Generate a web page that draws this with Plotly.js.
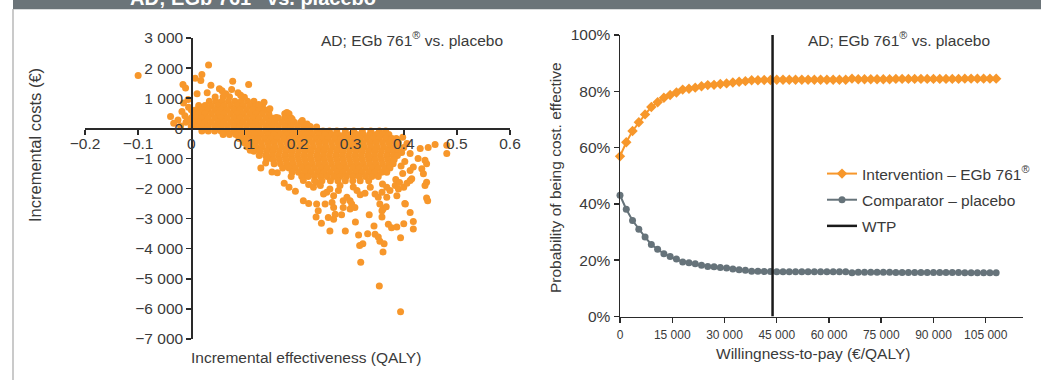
<!DOCTYPE html>
<html>
<head>
<meta charset="utf-8">
<script src="https://cdn.plot.ly/plotly-3.0.1.min.js"></script>
<style>html,body{margin:0;padding:0;background:#fff;}#chart{width:1041px;height:380px;}</style>
</head>
<body>
<div id="chart"></div>
<script>
// ---------- DATA ----------
// Dense part of the cost-effectiveness plane: [incremental cost, [incremental effectiveness ...]]
const cloudRows = [
  [1050, [0.06, 0.072]],
  [900, [0.034, 0.046, 0.058, 0.07, 0.082, 0.094, 0.106, 0.118]],
  [760, [0.014, 0.026, 0.038, 0.05, 0.062, 0.074, 0.086, 0.098, 0.11, 0.122, 0.134]],
  [620, [0.0, 0.01, 0.02, 0.032, 0.044, 0.056, 0.068, 0.08, 0.092, 0.104, 0.116, 0.128, 0.138]],
  [480, [0.004, 0.014, 0.026, 0.038, 0.05, 0.062, 0.074, 0.086, 0.098, 0.11, 0.122, 0.134, 0.146, 0.176, 0.184]],
  [340, [0.0, 0.01, 0.02, 0.032, 0.044, 0.056, 0.068, 0.08, 0.092, 0.104, 0.116, 0.128, 0.14, 0.152, 0.164, 0.176, 0.188]],
  [200, [0.004, 0.014, 0.026, 0.038, 0.05, 0.062, 0.074, 0.086, 0.098, 0.11, 0.122, 0.134, 0.146, 0.158, 0.17, 0.182, 0.194, 0.206]],
  [60, [0.0, 0.01, 0.02, 0.032, 0.044, 0.056, 0.068, 0.08, 0.092, 0.104, 0.116, 0.128, 0.14, 0.152, 0.164, 0.176, 0.188, 0.2, 0.212, 0.224]],
  [-90, [0.02, 0.032, 0.044, 0.056, 0.068, 0.08, 0.092, 0.104, 0.116, 0.128, 0.14, 0.152, 0.164, 0.176, 0.188, 0.2, 0.212, 0.224, 0.236, 0.248, 0.26, 0.274, 0.29, 0.306, 0.322, 0.338, 0.354, 0.366]],
  [-210, [0.06, 0.072, 0.084, 0.096, 0.108, 0.12, 0.132, 0.144, 0.156, 0.168, 0.18, 0.192, 0.204, 0.216, 0.228, 0.24, 0.252, 0.264, 0.276, 0.288, 0.3, 0.312, 0.324, 0.336, 0.348, 0.36, 0.372]],
  [-340, [0.09, 0.102, 0.114, 0.126, 0.138, 0.15, 0.162, 0.174, 0.186, 0.198, 0.21, 0.222, 0.234, 0.246, 0.258, 0.27, 0.282, 0.294, 0.306, 0.318, 0.33, 0.342, 0.354, 0.366, 0.378, 0.386]],
  [-480, [0.1, 0.108, 0.12, 0.132, 0.144, 0.156, 0.168, 0.18, 0.192, 0.204, 0.216, 0.228, 0.24, 0.252, 0.264, 0.276, 0.288, 0.3, 0.312, 0.324, 0.336, 0.348, 0.36, 0.372, 0.384, 0.39]],
  [-620, [0.11, 0.122, 0.134, 0.146, 0.158, 0.17, 0.182, 0.194, 0.206, 0.218, 0.23, 0.242, 0.254, 0.266, 0.278, 0.29, 0.302, 0.314, 0.326, 0.338, 0.35, 0.362, 0.374, 0.386]],
  [-760, [0.118, 0.13, 0.142, 0.154, 0.166, 0.178, 0.19, 0.202, 0.214, 0.226, 0.238, 0.25, 0.262, 0.274, 0.286, 0.298, 0.31, 0.322, 0.334, 0.346, 0.358, 0.37, 0.382, 0.39]],
  [-900, [0.128, 0.14, 0.152, 0.164, 0.176, 0.188, 0.2, 0.212, 0.224, 0.236, 0.248, 0.26, 0.272, 0.284, 0.296, 0.308, 0.32, 0.332, 0.344, 0.356, 0.368, 0.38, 0.388]],
  [-1040, [0.142, 0.154, 0.166, 0.178, 0.19, 0.202, 0.214, 0.226, 0.238, 0.25, 0.262, 0.274, 0.286, 0.298, 0.31, 0.322, 0.334, 0.346, 0.358, 0.37, 0.382]],
  [-1180, [0.156, 0.168, 0.18, 0.192, 0.204, 0.216, 0.228, 0.24, 0.252, 0.264, 0.276, 0.288, 0.3, 0.312, 0.324, 0.336, 0.348, 0.36, 0.372, 0.38]],
  [-1320, [0.172, 0.184, 0.196, 0.208, 0.22, 0.232, 0.244, 0.256, 0.268, 0.28, 0.292, 0.304, 0.316, 0.328, 0.34, 0.352, 0.364, 0.374]],
  [-1460, [0.19, 0.202, 0.214, 0.226, 0.238, 0.25, 0.262, 0.274, 0.286, 0.298, 0.31, 0.322, 0.334, 0.346, 0.358, 0.368]],
  [-1600, [0.208, 0.22, 0.232, 0.244, 0.256, 0.268, 0.28, 0.292, 0.304, 0.316, 0.328, 0.34, 0.352]],
  [-1740, [0.232, 0.246, 0.262, 0.276, 0.29, 0.304, 0.318, 0.334]]
];

// Individually visible simulations: [incremental effectiveness, incremental cost]
const scatteredPoints = [
  [0.0326,2100],[0.02,1790],[0.0075,1660],[0.018,1590],[0.037,1430],[0.053,1310],[0.058,1250],[0.078,1565],
  [0.076,1285],[0.108,1455],[0.011,1150],[0.137,862],[0.18,526],[0.209,257],[0.088,1180],[0.065,1150],
  [0.045,1040],[0.1,1030],[0.127,790],[0.148,650],[0.16,360],[0.19,300],[0.218,140],[0.236,40],[0.03,1180],[0.093,1100],
  [-0.1,1755],[-0.0156,1453],[-0.0107,1342],[-0.0145,839],[-0.0175,557],[-0.039,390],[-0.025,279],[-0.01,200],
  [-0.007,250],[-0.033,168],[-0.005,700],[-0.012,420],[-0.02,80],[-0.006,960],
  [0.387,-393],[0.406,-503],[0.431,-671],[0.446,-638],[0.459,-537],[0.481,-560],[0.481,-839],[0.412,-839],
  [0.427,-1007],[0.443,-1175],[0.418,-1289],[0.44,-1064],[0.412,-1400],[0.434,-1342],[0.437,-1510],[0.443,-1790],
  [0.44,-1900],[0.415,-1678],[0.443,-2316],[0.402,-1100],[0.398,-1500],[0.396,-800],[0.4,-640],[0.398,-300],[0.395,-1250],
  [0.105,-615],[0.111,-727],[0.131,-1320],[0.152,-1455],[0.162,-1480],[0.14,-1150],[0.175,-1824],[0.184,-1958],
  [0.196,-2093],[0.188,-1600],
  [0.211,-1734],[0.221,-1869],[0.23,-1958],[0.236,-1790],[0.243,-1902],[0.249,-2182],[0.255,-2126],[0.261,-2014],
  [0.268,-2238],[0.277,-2070],[0.286,-2406],[0.293,-2294],[0.299,-2406],[0.312,-2070],[0.318,-2204],[0.327,-2160],
  [0.337,-1958],[0.346,-2182],[0.352,-2294],[0.359,-2126],[0.368,-1958],[0.374,-2070],[0.384,-1902],[0.39,-2014],
  [0.4,-1958],[0.406,-1824],[0.412,-1734],[0.28,-1900],[0.305,-1950],[0.36,-1850],[0.385,-1700],[0.392,-1800],
  [0.211,-2406],[0.221,-2497],[0.236,-2517],[0.252,-2517],[0.265,-2463],[0.268,-2631],[0.239,-2742],[0.235,-2943],
  [0.245,-3155],[0.261,-3413],[0.258,-2966],[0.268,-3020],[0.271,-2853],[0.283,-2876],[0.29,-3413],[0.286,-2631],
  [0.299,-2685],[0.302,-2517],[0.308,-2631],[0.309,-3111],[0.315,-3547],[0.323,-3839],[0.317,-3893],[0.319,-4453],
  [0.335,-2876],[0.344,-3245],[0.332,-3503],[0.346,-3524],[0.352,-3614],[0.355,-3749],[0.363,-3839],[0.361,-4108],
  [0.354,-5236],[0.394,-6098],[0.355,-2517],[0.361,-2685],[0.367,-2607],[0.359,-2943],[0.371,-3188],[0.377,-3302],
  [0.387,-3279],[0.4,-3168],[0.394,-3637],[0.412,-2799],[0.418,-3100],[0.418,-3346],[0.403,-2517],[0.445,-2406],
  [0.402,-2495],[0.387,-2238],[0.368,-2294],[0.359,-2742]
];

// Cost-effectiveness acceptability curve
const wtp = [0, 1800, 3600, 5400, 7200, 9000, 10800, 12600, 14400, 16200, 18000, 19800, 21600, 23400, 25200,
  27000, 28800, 30600, 32400, 34200, 36000, 37800, 39600, 41400, 43200, 45000, 46800, 48600, 50400, 52200,
  54000, 55800, 57600, 59400, 61200, 63000, 64800, 66600, 68400, 70200, 72000, 73800, 75600, 77400, 79200,
  81000, 82800, 84600, 86400, 88200, 90000, 91800, 93600, 95400, 97200, 99000, 100800, 102600, 104400, 106200, 108000];
const probIntervention = [56.9, 61.9, 65.9, 69.0, 71.8, 74.4, 76.1, 77.7, 78.7, 79.6, 80.6, 80.9, 81.3, 81.8, 82.2,
  82.3, 82.6, 82.8, 83.1, 83.4, 83.6, 83.9, 83.9, 84.0, 84.0,
  84.1, 84.1, 84.1, 84.1, 84.1, 84.1, 84.1, 84.1, 84.1, 84.1, 84.1, 84.1,
  84.5,
  84.3, 84.3, 84.3, 84.3, 84.3, 84.3, 84.4, 84.4, 84.4, 84.4, 84.4, 84.4, 84.4, 84.4, 84.4, 84.4, 84.4,
  84.5, 84.5, 84.5, 84.5, 84.5, 84.5];
const probComparator = [43.1, 38.1, 34.1, 31.0, 28.2, 25.6, 23.9, 22.3, 21.3, 20.4, 19.4, 19.1, 18.7, 18.2, 17.8,
  17.7, 17.4, 17.2, 16.9, 16.6, 16.4, 16.1, 16.1, 16.0, 16.0,
  15.9, 15.9, 15.9, 15.9, 15.9, 15.9, 15.9, 15.9, 15.9, 15.9, 15.9, 15.9,
  15.5,
  15.7, 15.7, 15.7, 15.7, 15.7, 15.7, 15.6, 15.6, 15.6, 15.6, 15.6, 15.6, 15.6, 15.6, 15.6, 15.6, 15.6,
  15.5, 15.5, 15.5, 15.5, 15.5, 15.5];
const wtpThreshold = 43800;

const panelTitle = 'AD; EGb 761<sup>®</sup> vs. placebo';
const costTicks = [3000, 2000, 1000, 0, -1000, -2000, -3000, -4000, -5000, -6000, -7000];
const wtpTicks = [0, 15000, 30000, 45000, 60000, 75000, 90000, 105000];

// ---------- BUILD ----------
const effX = [], costY = [];
cloudRows.forEach(([c, xs]) => xs.forEach(x => { effX.push(x); costY.push(c); }));
scatteredPoints.forEach(([x, c]) => { effX.push(x); costY.push(c); });

const FONT = "'Liberation Sans', Arial, sans-serif";
const FS = 15.5;
const TXT = '#3a3a3a', AX = '#2a2a2a';
const ORANGE = '#F7972B', GREY = '#66737A';

const L = 85, R = 18, T = 35, B = 41, FW = 1041, FH = 380;
const W = FW - L - R, H = FH - T - B;
const px2x = p => (p - L) / W;
const py2y = p => (FH - B - p) / H;

const leftXDom = [0, px2x(510)];
const leftYDom = [0, py2y(38)];
const rightXDom = [px2x(620), 1];
const rightYDom = [py2y(316.5), 1];
const yRange = [-7000, 3000], xRange = [-0.2, 0.6];
const xAxisPos = leftYDom[0] + (leftYDom[1] - leftYDom[0]) * (0 - yRange[0]) / (yRange[1] - yRange[0]);
const yAxisPos = leftXDom[0] + (leftXDom[1] - leftXDom[0]) * (0 - xRange[0]) / (xRange[1] - xRange[0]);

const axisCommon = {
  showline: true, linecolor: AX, linewidth: 1.5, ticks: 'outside', ticklen: 5, tickwidth: 1.5,
  tickcolor: AX, showgrid: false, zeroline: false, layer: 'above traces', automargin: false,
  exponentformat: 'none', tickfont: {family: FONT, size: FS, color: TXT}
};

const traces = [
  {x: effX, y: costY, xaxis: 'x', yaxis: 'y', type: 'scatter', mode: 'markers', showlegend: false,
   hoverinfo: 'skip', marker: {size: 7, color: ORANGE, line: {width: 0}}},
  {x: wtp, y: probIntervention, xaxis: 'x2', yaxis: 'y2', type: 'scatter', mode: 'lines+markers',
   name: 'Intervention – EGb 761<sup>®</sup>', legendgroup: 'a', cliponaxis: false,
   line: {color: ORANGE, width: 2}, marker: {symbol: 'diamond', size: 8, color: ORANGE}},
  {x: wtp, y: probComparator, xaxis: 'x2', yaxis: 'y2', type: 'scatter', mode: 'lines+markers',
   name: 'Comparator – placebo', legendgroup: 'b', cliponaxis: false,
   line: {color: GREY, width: 2}, marker: {symbol: 'circle', size: 7, color: GREY}},
  {x: [wtpThreshold, wtpThreshold], y: [0, 100], xaxis: 'x2', yaxis: 'y2', type: 'scatter', mode: 'lines',
   name: 'WTP', legendgroup: 'c', line: {color: '#1a1a1a', width: 2.5}}
];

const annFont = {family: FONT, size: FS, color: TXT};
const layout = {
  width: FW, height: FH,
  margin: {l: L, r: R, t: T, b: B, pad: 0, autoexpand: false},
  paper_bgcolor: '#ffffff', plot_bgcolor: 'rgba(0,0,0,0)',
  separators: '. ',
  font: {family: FONT, size: FS, color: TXT},
  xaxis: Object.assign({}, axisCommon, {domain: leftXDom, range: xRange, tick0: 0, dtick: 0.1,
    anchor: 'free', position: xAxisPos, ticklabelstandoff: -4}),
  yaxis: Object.assign({}, axisCommon, {domain: leftYDom, range: yRange, tickvals: costTicks,
    separatethousands: true, anchor: 'free', position: yAxisPos}),
  xaxis2: Object.assign({}, axisCommon, {domain: rightXDom, range: [0, 115700], tickvals: wtpTicks,
    separatethousands: true, anchor: 'y2', ticklabelstandoff: 2, tickfont: {family: FONT, size: 12, color: TXT}}),
  yaxis2: Object.assign({}, axisCommon, {domain: rightYDom, range: [0, 100], dtick: 20, ticksuffix: '%',
    anchor: 'x2'}),
  showlegend: true,
  legend: {x: px2x(822), y: py2y(157), xanchor: 'left', yanchor: 'top', bgcolor: 'rgba(0,0,0,0)',
    font: {family: FONT, size: FS, color: TXT}, itemwidth: 30, traceorder: 'grouped', tracegroupgap: 3},
  shapes: [
    {type: 'rect', xref: 'paper', yref: 'paper', x0: px2x(13), x1: px2x(1045), y0: py2y(9.3), y1: py2y(-3),
     fillcolor: '#6B7479', line: {width: 0}, layer: 'above'},
    {type: 'line', xref: 'paper', yref: 'paper', x0: px2x(13), x1: px2x(13), y0: py2y(9), y1: py2y(382),
     line: {color: '#b8b8b8', width: 1.5}}
  ],
  annotations: [
    {text: '<b>' + panelTitle + '</b>', xref: 'paper', yref: 'paper', x: px2x(128), y: py2y(-3.5),
     xanchor: 'left', yanchor: 'middle', showarrow: false, font: {family: FONT, size: 20, color: '#ffffff'}},
    {text: panelTitle, xref: 'paper', yref: 'paper', x: px2x(505), y: py2y(39), xanchor: 'right',
     yanchor: 'middle', showarrow: false, font: annFont},
    {text: panelTitle, xref: 'paper', yref: 'paper', x: px2x(992), y: py2y(39), xanchor: 'right',
     yanchor: 'middle', showarrow: false, font: annFont},
    {text: 'Incremental costs (€)', xref: 'paper', yref: 'paper', x: px2x(35), y: py2y(145),
     xanchor: 'center', yanchor: 'middle', textangle: -90, showarrow: false,
     font: {family: FONT, size: 16.5, color: TXT}},
    {text: 'Incremental effectiveness (QALY)', xref: 'paper', yref: 'paper', x: px2x(189), y: py2y(357),
     xanchor: 'left', yanchor: 'middle', showarrow: false, font: annFont},
    {text: 'Probability of being cost. effective', xref: 'paper', yref: 'paper', x: px2x(555), y: py2y(178),
     xanchor: 'center', yanchor: 'middle', textangle: -90, showarrow: false, font: annFont},
    {text: 'Willingness-to-pay (€/QALY)', xref: 'paper', yref: 'paper', x: px2x(813), y: py2y(353),
     xanchor: 'center', yanchor: 'middle', showarrow: false, font: annFont}
  ]
};

Plotly.newPlot('chart', traces, layout, {staticPlot: true, displayModeBar: false});
</script>
</body>
</html>
